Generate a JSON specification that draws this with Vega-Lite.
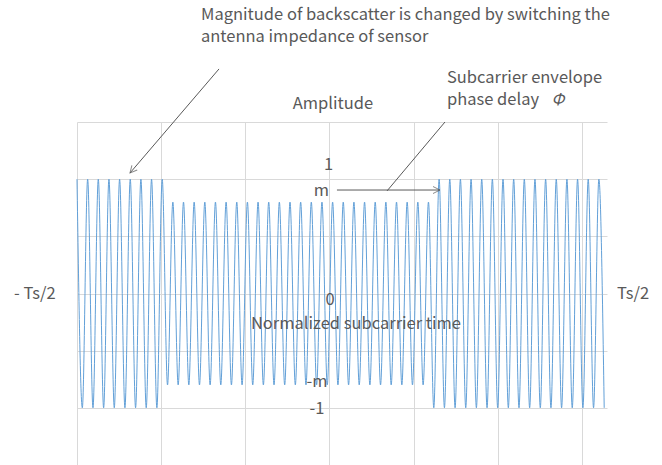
{
  "$schema": "https://vega.github.io/schema/vega-lite/v6.json",
  "autosize": {"type": "none"},
  "width": 530,
  "height": 343,
  "padding": {"left": 77, "top": 122, "right": 55, "bottom": 0},
  "background": "white",
  "config": {
    "view": {"stroke": null},
    "font": "Noto Sans CJK JP",
    "axis": {"grid": true, "gridColor": "#d9d9d9", "gridWidth": 1, "labels": false, "ticks": false, "domain": false, "title": null}
  },
  "datasets": {
    "wave": [
      {"t": 0, "v": 1}, {"t": 0.0633, "v": -1}, {"t": 0.1266, "v": 1}, {"t": 0.1899, "v": -1},
      {"t": 0.2532, "v": 1}, {"t": 0.3165, "v": -1}, {"t": 0.3798, "v": 1}, {"t": 0.4431, "v": -1},
      {"t": 0.5064, "v": 1}, {"t": 0.5697, "v": -1}, {"t": 0.633, "v": 1}, {"t": 0.6963, "v": -1},
      {"t": 0.7596, "v": 1}, {"t": 0.8229, "v": -1}, {"t": 0.8862, "v": 1}, {"t": 0.9495, "v": -1},
      {"t": 1.0128, "v": 1}, {"t": 1.0761, "v": -0.8}, {"t": 1.1394, "v": 0.8}, {"t": 1.2027, "v": -0.8},
      {"t": 1.266, "v": 0.8}, {"t": 1.3293, "v": -0.8}, {"t": 1.3926, "v": 0.8}, {"t": 1.4559, "v": -0.8},
      {"t": 1.5192, "v": 0.8}, {"t": 1.5825, "v": -0.8}, {"t": 1.6458, "v": 0.8}, {"t": 1.7091, "v": -0.8},
      {"t": 1.7724, "v": 0.8}, {"t": 1.8357, "v": -0.8}, {"t": 1.899, "v": 0.8}, {"t": 1.9623, "v": -0.8},
      {"t": 2.0256, "v": 0.8}, {"t": 2.0889, "v": -0.8}, {"t": 2.1522, "v": 0.8}, {"t": 2.2155, "v": -0.8},
      {"t": 2.2788, "v": 0.8}, {"t": 2.3421, "v": -0.8}, {"t": 2.4054, "v": 0.8}, {"t": 2.4687, "v": -0.8},
      {"t": 2.532, "v": 0.8}, {"t": 2.5953, "v": -0.8}, {"t": 2.6586, "v": 0.8}, {"t": 2.7219, "v": -0.8},
      {"t": 2.7852, "v": 0.8}, {"t": 2.8485, "v": -0.8}, {"t": 2.9118, "v": 0.8}, {"t": 2.9751, "v": -0.8},
      {"t": 3.0384, "v": 0.8}, {"t": 3.1017, "v": -0.8}, {"t": 3.165, "v": 0.8}, {"t": 3.2283, "v": -0.8},
      {"t": 3.2916, "v": 0.8}, {"t": 3.3549, "v": -0.8}, {"t": 3.4182, "v": 0.8}, {"t": 3.4815, "v": -0.8},
      {"t": 3.5448, "v": 0.8}, {"t": 3.6081, "v": -0.8}, {"t": 3.6714, "v": 0.8}, {"t": 3.7347, "v": -0.8},
      {"t": 3.798, "v": 0.8}, {"t": 3.8613, "v": -0.8}, {"t": 3.9246, "v": 0.8}, {"t": 3.9879, "v": -0.8},
      {"t": 4.0512, "v": 0.8}, {"t": 4.1145, "v": -0.8}, {"t": 4.1778, "v": 0.8}, {"t": 4.2411, "v": -1},
      {"t": 4.3044, "v": 1}, {"t": 4.3677, "v": -1}, {"t": 4.431, "v": 1}, {"t": 4.4943, "v": -1},
      {"t": 4.5576, "v": 1}, {"t": 4.6209, "v": -1}, {"t": 4.6842, "v": 1}, {"t": 4.7475, "v": -1},
      {"t": 4.8108, "v": 1}, {"t": 4.8741, "v": -1}, {"t": 4.9374, "v": 1}, {"t": 5.0007, "v": -1},
      {"t": 5.064, "v": 1}, {"t": 5.1273, "v": -1}, {"t": 5.1906, "v": 1}, {"t": 5.2539, "v": -1},
      {"t": 5.3172, "v": 1}, {"t": 5.3805, "v": -1}, {"t": 5.4438, "v": 1}, {"t": 5.5071, "v": -1},
      {"t": 5.5704, "v": 1}, {"t": 5.6337, "v": -1}, {"t": 5.697, "v": 1}, {"t": 5.7603, "v": -1},
      {"t": 5.8236, "v": 1}, {"t": 5.8869, "v": -1}, {"t": 5.9502, "v": 1}, {"t": 6.0135, "v": -1},
      {"t": 6.0768, "v": 1}, {"t": 6.1401, "v": -1}, {"t": 6.2034, "v": 1}, {"t": 6.2667, "v": -1}
    ],
    "arrows": [
      {"t": 1.688, "v": 1.964, "t2": 0.63, "v2": 1.054},
      {"t": 4.374, "v": 1.5, "t2": 3.685, "v2": 0.897},
      {"t": 3.09, "v": 0.905, "t2": 4.315, "v2": 0.905}
    ],
    "headDiag": [{"t": 0.63, "v": 1.054}],
    "headHoriz": [{"t": 4.315, "v": 0.905}],
    "topTexts": [
      {"t": 1.474, "v": 2.44, "label": "Magnitude of backscatter is changed by switching the"},
      {"t": 1.474, "v": 2.243, "label": "antenna impedance of sensor"}
    ],
    "leftTexts": [
      {"t": 4.398, "v": 1.882, "label": "Subcarrier envelope"},
      {"t": 4.398, "v": 1.692, "label": "phase delay"},
      {"t": -0.749, "v": 0, "label": "-  Ts/2"},
      {"t": 6.419, "v": 0, "label": "Ts/2"}
    ],
    "centerTexts": [
      {"t": 3.043, "v": 1.657, "label": "Amplitude"},
      {"t": 2.989, "v": 1.12, "label": "1"},
      {"t": 2.906, "v": 0.899, "label": "m"},
      {"t": 3.007, "v": -0.06, "label": "0"},
      {"t": 3.316, "v": -0.265, "label": "Normalized subcarrier time"},
      {"t": 2.853, "v": -0.771, "label": "-m"},
      {"t": 2.853, "v": -1.01, "label": "-1"}
    ],
    "phi": [{"t": 5.717, "v": 1.692, "label": "Φ"}]
  },
  "encoding": {
    "x": {"field": "t", "type": "quantitative", "scale": {"domain": [0, 6.3], "nice": false, "zero": false},
      "axis": {"values": [0, 1, 2, 3, 4, 5, 6]}},
    "y": {"field": "v", "type": "quantitative", "scale": {"domain": [-1.5, 1.5], "nice": false, "zero": false},
      "axis": {"values": [-1.5, -1, -0.5, 0, 0.5, 1, 1.5]}}
  },
  "layer": [
    {
      "data": {"name": "wave"},
      "mark": {"type": "line", "color": "#62A0D8", "strokeWidth": 1, "interpolate": "monotone", "clip": false}
    },
    {
      "data": {"name": "arrows"},
      "mark": {"type": "rule", "color": "#595959", "strokeWidth": 1},
      "encoding": {
        "x2": {"field": "t2"},
        "y2": {"field": "v2"}
      }
    },
    {
      "data": {"name": "headDiag"},
      "mark": {"type": "point", "shape": "M-1,-0.5L0,0L-1,0.5", "size": 196, "filled": false, "stroke": "#595959", "strokeWidth": 1, "angle": 130.6}
    },
    {
      "data": {"name": "headHoriz"},
      "mark": {"type": "point", "shape": "M-1,-0.5L0,0L-1,0.5", "size": 196, "filled": false, "stroke": "#595959", "strokeWidth": 1, "angle": 0}
    },
    {
      "data": {"name": "topTexts"},
      "mark": {"type": "text", "align": "left", "baseline": "middle", "fontSize": 16.5, "color": "#595959"},
      "encoding": {"text": {"field": "label"}}
    },
    {
      "data": {"name": "leftTexts"},
      "mark": {"type": "text", "align": "left", "baseline": "middle", "fontSize": 16.5, "color": "#595959"},
      "encoding": {"text": {"field": "label"}}
    },
    {
      "data": {"name": "centerTexts"},
      "mark": {"type": "text", "align": "center", "baseline": "middle", "fontSize": 16.5, "color": "#595959"},
      "encoding": {"text": {"field": "label"}}
    },
    {
      "data": {"name": "phi"},
      "mark": {"type": "text", "align": "center", "baseline": "middle", "fontSize": 16, "fontStyle": "italic", "color": "#595959"},
      "encoding": {"text": {"field": "label"}}
    }
  ]
}
